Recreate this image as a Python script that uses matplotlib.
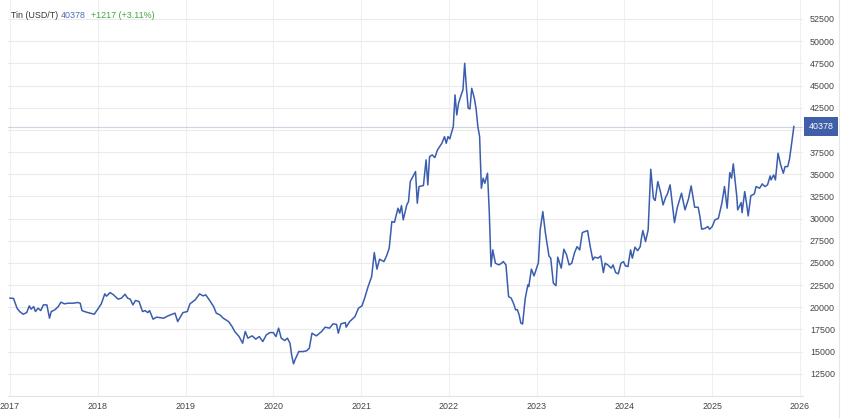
import matplotlib
matplotlib.use("Agg")
import matplotlib.pyplot as plt
import numpy as np

# Tin price, USD/T, x in decimal years
years = [
    2017.00, 2017.04, 2017.08, 2017.11, 2017.15, 2017.19, 2017.22, 2017.24, 2017.27, 2017.29,
    2017.32, 2017.35, 2017.38, 2017.42, 2017.45, 2017.47, 2017.51, 2017.55, 2017.58, 2017.62,
    2017.66, 2017.72, 2017.77, 2017.80, 2017.82, 2017.87, 2017.96, 2018.00, 2018.04, 2018.08,
    2018.10, 2018.14, 2018.18, 2018.23, 2018.27, 2018.31, 2018.34, 2018.37, 2018.40, 2018.43,
    2018.47, 2018.51, 2018.54, 2018.57, 2018.59, 2018.63, 2018.67, 2018.75, 2018.80, 2018.88,
    2018.91, 2018.94, 2018.97, 2019.02, 2019.05, 2019.11, 2019.16, 2019.20, 2019.23, 2019.27,
    2019.32, 2019.35, 2019.39, 2019.43, 2019.49, 2019.53, 2019.56, 2019.61, 2019.65, 2019.68,
    2019.71, 2019.76, 2019.80, 2019.84, 2019.88, 2019.92, 2019.96, 2020.00, 2020.03, 2020.06,
    2020.09, 2020.13, 2020.16, 2020.19, 2020.21, 2020.23, 2020.25, 2020.29, 2020.34, 2020.38,
    2020.41, 2020.44, 2020.49, 2020.55, 2020.59, 2020.64, 2020.68, 2020.72, 2020.74, 2020.77,
    2020.82, 2020.83, 2020.87, 2020.93, 2020.97, 2021.01, 2021.04, 2021.08, 2021.12, 2021.15,
    2021.18, 2021.21, 2021.26, 2021.29, 2021.32, 2021.35, 2021.38, 2021.42, 2021.44, 2021.46,
    2021.48, 2021.52, 2021.54, 2021.56, 2021.59, 2021.62, 2021.64, 2021.66, 2021.71, 2021.74,
    2021.76, 2021.78, 2021.81, 2021.84, 2021.87, 2021.92, 2021.95, 2021.97, 2021.99, 2022.01,
    2022.05, 2022.07, 2022.09, 2022.11, 2022.14, 2022.16, 2022.18, 2022.20, 2022.22, 2022.24,
    2022.26, 2022.29, 2022.31, 2022.33, 2022.35, 2022.37, 2022.39, 2022.41, 2022.44, 2022.46,
    2022.48, 2022.50, 2022.53, 2022.57, 2022.60, 2022.62, 2022.65, 2022.68, 2022.71, 2022.74,
    2022.76, 2022.78, 2022.80, 2022.82, 2022.84, 2022.87, 2022.90, 2022.91, 2022.94, 2022.97,
    2023.02, 2023.04, 2023.07, 2023.10, 2023.14, 2023.16, 2023.19, 2023.22, 2023.24, 2023.28,
    2023.31, 2023.34, 2023.37, 2023.40, 2023.43, 2023.46, 2023.49, 2023.52, 2023.55, 2023.58,
    2023.61, 2023.64, 2023.66, 2023.70, 2023.73, 2023.76, 2023.78, 2023.81, 2023.85, 2023.87,
    2023.90, 2023.93, 2023.96, 2023.99, 2024.01, 2024.04, 2024.07, 2024.09, 2024.12, 2024.15,
    2024.18, 2024.19, 2024.21, 2024.24, 2024.27, 2024.30, 2024.33, 2024.35, 2024.38, 2024.41,
    2024.44, 2024.47, 2024.49, 2024.52, 2024.54, 2024.57, 2024.60, 2024.65, 2024.69, 2024.73,
    2024.76, 2024.80, 2024.84, 2024.86, 2024.88, 2024.92, 2024.95, 2024.97, 2025.00, 2025.03,
    2025.07, 2025.11, 2025.14, 2025.17, 2025.20, 2025.22, 2025.24, 2025.28, 2025.29, 2025.33,
    2025.34, 2025.37, 2025.39, 2025.41, 2025.44, 2025.48, 2025.50, 2025.54, 2025.57, 2025.60,
    2025.63, 2025.66, 2025.67, 2025.70, 2025.72, 2025.75, 2025.78, 2025.81, 2025.83, 2025.86,
    2025.88, 2025.90, 2025.93,
]
prices = [
    21030, 21000, 19900, 19520, 19220, 19400, 20160, 19790, 20080, 19520,
    19900, 19630, 20270, 20270, 18770, 19520, 19710, 20080, 20580, 20390,
    20460, 20460, 20540, 20460, 19630, 19450, 19220, 19790, 20390, 21510,
    21250, 21660, 21400, 20920, 21030, 21470, 21030, 20920, 20270, 20770,
    20650, 19520, 19630, 19400, 19630, 18660, 18890, 18770, 19030, 19340,
    18390, 18890, 19400, 19520, 20390, 20840, 21510, 21290, 21400, 20840,
    20080, 19340, 19150, 18770, 18390, 17830, 17270, 16700, 15950, 17270,
    16520, 16780, 16410, 16700, 16140, 16890, 17150, 17150, 16700, 17650,
    16520, 16250, 16520, 15950, 14530, 13630, 14150, 15010, 15010, 15100,
    15390, 17080, 16780, 17270, 17760, 17650, 18130, 18070, 17080, 18130,
    18280, 17760, 18390, 18950, 19900, 20160, 21030, 22340, 23460, 26170,
    24300, 25420, 25150, 25790, 26660, 29660, 29580, 31170, 30610, 31460,
    29850, 31540, 31920, 34170, 34730, 35300, 31730, 33610, 33730, 36620,
    33800, 36990, 37180, 36870, 37740, 38490, 39240, 38490, 39240, 38980,
    40370, 43940, 41680, 43000, 43940, 44500, 47510, 44690, 42440, 42360,
    44690, 43560, 42360, 40370, 39240, 33420, 34550, 33980, 35110, 30790,
    24590, 26470, 24970, 24780, 24970, 25160, 24780, 21210, 21030, 20350,
    19710, 19740, 19150, 18210, 18120, 21030, 22530, 22340, 24300, 23540,
    25040, 28720, 30790, 28350, 25790, 25540, 22720, 22440, 25650, 24410,
    26550, 25920, 24780, 24970, 26110, 26840, 26470, 28420, 28540, 28640,
    26840, 25340, 25650, 25540, 25790, 23910, 24970, 24780, 24410, 24780,
    23910, 23770, 24970, 25150, 24670, 24590, 26470, 25540, 26780, 26380,
    26840, 27600, 28650, 27410, 28720, 35560, 32290, 32040, 34170, 33040,
    31540, 32410, 32790, 33800, 32110, 29550, 31170, 32860, 30980, 32230,
    33680, 31280, 31280, 30220, 28800, 28910, 29100, 28800, 29100, 29850,
    30030, 31730, 33610, 31170, 35190, 34560, 36170, 32480, 30980, 31800,
    30670, 33040, 31800, 30300, 32570, 32790, 33610, 33420, 33910, 33610,
    33800, 34810, 34360, 34920, 34360, 37370, 36050, 35110, 35860, 35860,
    36690, 38110, 40378,
]
last_price = 40378
change = 1217
change_pct = 3.11
year_ticks = list(range(2017, 2027))
price_ticks = list(range(12500, 52501, 2500))

LINE = "#3a5dae"
GRID = "#ebebeb"

fig = plt.figure(figsize=(8.48, 4.18), dpi=100)
ax = fig.add_axes([8 / 848, 22 / 418, 795 / 848, 396 / 418])

ax.plot(years, prices, color=LINE, lw=1.1, zorder=3)
ax.axhline(last_price, color="#a9b4c8", lw=0.8, ls=(0, (1, 0.8)), zorder=2)

ax.set_xlim(2017 - 2 / 87.8, 2026 + 3 / 87.8)
ax.set_ylim(10000, 54640)
ax.set_xticks(year_ticks)
ax.set_xticklabels([str(y) for y in year_ticks])
ax.set_yticks(price_ticks)
# the 40000 label sits under the last-value tag, so it is not shown
ax.set_yticklabels(["" if abs(p - last_price) < 1000 else str(p) for p in price_ticks])
ax.yaxis.tick_right()
ax.tick_params(axis="y", length=0, pad=5, labelsize=6.4, labelcolor="#444444")
ax.tick_params(axis="x", length=0, pad=4, labelsize=6.4, labelcolor="#444444")
for lbl in ax.get_xticklabels() + ax.get_yticklabels():
    lbl.set_family("Liberation Sans")

ax.grid(axis="y", color=GRID, lw=0.8)
ax.grid(axis="x", color="#eef1f4", lw=0.8)
ax.set_axisbelow(True)
for side in ["top", "left", "right"]:
    ax.spines[side].set_visible(False)
ax.spines["bottom"].set_color("#e3e3e3")
ax.spines["bottom"].set_linewidth(0.8)

# right border line
fig.add_artist(plt.Line2D([839 / 848, 839 / 848], [0, 1], color="#e6e6e6", lw=0.8))

# last value tag
ax.annotate(str(last_price), xy=(1, last_price), xycoords=("axes fraction", "data"),
            xytext=(4, 0), textcoords="offset points", va="center", ha="left",
            fontsize=6.4, family="Liberation Sans", color="white",
            bbox=dict(boxstyle="square,pad=0.55", fc="#3f5fa8", ec="none"))

# header
fig.canvas.draw()
r = fig.canvas.get_renderer()
parts = [("Tin (USD/T) ", "#333333"), (str(last_price), "#4a6cb3"),
         ("  +%d (+%.2f%%)" % (change, change_pct), "#3ea53a")]
x0 = 11
for txt, col in parts:
    t = fig.text(x0 / 848, 1 - 16 / 418, txt, fontsize=6.4, family="Liberation Sans",
                 color=col, va="center", ha="left")
    x0 += t.get_window_extent(r).width

fig.savefig("out.png", dpi=100)
